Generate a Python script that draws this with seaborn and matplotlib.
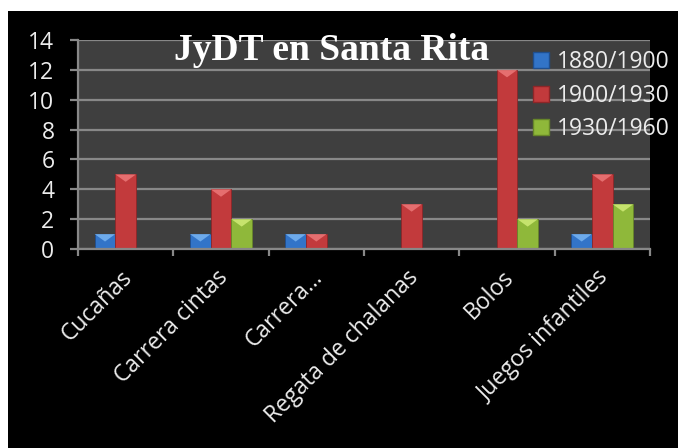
import numpy as np
import pandas as pd
import matplotlib
matplotlib.use("Agg")
import matplotlib.pyplot as plt
import matplotlib.patches as mpatches
import matplotlib.transforms as mtransforms
import seaborn as sns

# ── datos ────────────────────────────────────────────────
categorias = ["Cucañas", "Carrera cintas", "Carrera...",
              "Regata de chalanas", "Bolos", "Juegos infantiles"]
periodos = ["1880/1900", "1900/1930", "1930/1960"]
v_1880_1900 = [1, 1, 1, 0, 0, 1]
v_1900_1930 = [5, 4, 1, 3, 12, 5]
v_1930_1960 = [0, 2, 0, 0, 2, 3]
y_ticks = [0, 2, 4, 6, 8, 10, 12, 14]

# ── estilo ───────────────────────────────────────────────
sns.set_theme(style="white")
plt.rcParams["font.family"] = ["Open Sans", "DejaVu Sans"]

COLORS = ["#3274c8", "#c23a3c", "#8fb83a"]
LIGHT = ["#7cb8f4", "#ee7c7c", "#d4ef7a"]
DARK = ["#1f4f8f", "#8e2628", "#67862a"]
GRID = "#888888"
TXT = "#ececec"
FS = 16.5

df = pd.DataFrame({
    "categoria": categorias * 3,
    "periodo": np.repeat(periodos, len(categorias)),
    "valor": v_1880_1900 + v_1900_1930 + v_1930_1960,
})

fig = plt.figure(figsize=(6.78, 4.48), dpi=100)
fig.patch.set_facecolor("white")
fig.add_artist(mpatches.Rectangle((8 / 678, 0), 1 - 8 / 678, 437 / 448,
                                  transform=fig.transFigure,
                                  facecolor="black", edgecolor="none", zorder=-1))

ax = fig.add_axes([78 / 678, 1 - 249 / 448, 572 / 678, 209 / 448])
ax.set_facecolor("#3f3f3f")

sns.barplot(data=df, x="categoria", y="valor", hue="periodo",
            order=categorias, hue_order=periodos, palette=COLORS,
            width=0.65, saturation=1, ax=ax, legend=False,
            edgecolor="none", linewidth=0)

# bisel triangular en la parte superior de cada barra
for cont, light, dark in zip(ax.containers, LIGHT, DARK):
    for bar in cont:
        h = bar.get_height()
        if h <= 0:
            continue
        x0, w = bar.get_x(), bar.get_width()
        bar.set_edgecolor(dark)
        bar.set_linewidth(0.6)
        d = min(0.5, h * 0.6)
        ax.add_patch(mpatches.Polygon(
            [(x0, h), (x0 + w, h), (x0 + w / 2, h - d)],
            closed=True, facecolor=light, edgecolor="none", alpha=0.8,
            zorder=bar.get_zorder() + 0.1))

ax.set_ylim(0, 14)
ax.set_yticks(y_ticks)
ax.set_xlim(-0.5, len(categorias) - 0.5)
ax.set_xlabel("")
ax.set_ylabel("")

ax.set_axisbelow(True)
ax.yaxis.grid(True, color=GRID, linewidth=1.6)
ax.xaxis.grid(False)

for s in ["top", "right"]:
    ax.spines[s].set_visible(False)
for s in ["left", "bottom"]:
    ax.spines[s].set_color(GRID)
    ax.spines[s].set_linewidth(1.6)

ax.tick_params(axis="y", direction="out", length=6, width=1.6, color=GRID,
               pad=11, labelsize=FS, labelcolor=TXT, left=True)
ax.set_xticks(np.arange(-0.5, len(categorias), 1), minor=True)
ax.tick_params(axis="x", which="minor", direction="out", length=5,
               width=1.6, color=GRID, bottom=True)
ax.tick_params(axis="x", which="major", length=0, pad=18,
               labelsize=FS, labelcolor=TXT)
offset = mtransforms.ScaledTranslation(0.03, 0, fig.dpi_scale_trans)
for lbl in ax.get_xticklabels():
    lbl.set_rotation(45)
    lbl.set_ha("right")
    lbl.set_va("center")
    lbl.set_rotation_mode("anchor")
    lbl.set_transform(lbl.get_transform() + offset)

ax.text(0.443, 0.95, "JyDT en Santa Rita", transform=ax.transAxes,
        ha="center", va="center", fontsize=27, fontweight="bold",
        color="white", family="Liberation Serif")

handles = [mpatches.Patch(facecolor=c, edgecolor=d, label=p)
           for c, d, p in zip(COLORS, DARK, periodos)]
leg = ax.legend(handles=handles, loc="upper left", bbox_to_anchor=(0.78, 0.995),
                frameon=False, fontsize=FS, labelcolor=TXT,
                handlelength=0.7, handleheight=0.7, handletextpad=0.35,
                labelspacing=0.42, borderaxespad=0.0)

fig.savefig("out.png", dpi=100)
